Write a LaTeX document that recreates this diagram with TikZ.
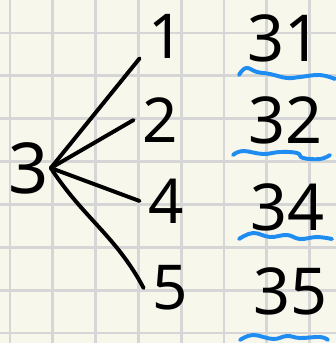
\documentclass[tikz,border=0pt]{standalone}
\usepackage{fontspec}
\setmainfont{Noto Sans}
\usepackage{xcolor}
\usetikzlibrary{positioning}
\definecolor{paper}{HTML}{F8F7EC}
\definecolor{gridgray}{HTML}{D6D6D6}
\definecolor{penblue}{HTML}{1E8CF0}

\begin{document}
\begin{tikzpicture}[
        x=0.025cm, y=-0.025cm,
        digit/.style={inner xsep=6pt, inner ysep=0pt, font=\fontsize{44}{44}\selectfont},
        result/.style={inner sep=0pt, font=\fontsize{46}{46}\selectfont},
        branch/.style={line width=2.8pt, line cap=round, line join=round},
        wave/.style={line width=2.8pt, line cap=round, penblue},
        gridline/.style={line width=2pt, gridgray}
    ]
        % Paper and grid
        \useasboundingbox (0,0) rectangle (336,343);
        \fill[paper] (0,0) rectangle (336,343);
        \foreach \i in {0,...,7} {
            \draw[gridline] ({10+42.8*\i},0) -- ++(0,343);
            \draw[gridline] (0,{33+42.86*\i}) -- ++(336,0);
        }

        % Tree
        \node[inner sep=1pt, font=\fontsize{50}{50}\selectfont] (root) at (29,168) {3};
        \node[digit] (d1) at (166,36) {1};
        \node[digit] (d2) at (160,120) {2};
        \node[digit] (d4) at (166,201) {4};
        \node[digit] (d5) at (170,288) {5};

        \draw[branch] (root.east) -- (d1.south west);
        \draw[branch] (root.east) -- (d2.west);
        \draw[branch] (root.east) -- (d4.west);
        \draw[branch] (root.east) to[out=-57, in=118] (d5.west);

        % Results
        \node[result] (n31) at (284,38) {31};
        \node[result] (n32) at (285,120) {32};
        \node[result] (n34) at (287,207) {34};
        \node[result] (n35) at (290,291) {35};

        % Blue underlines
        \draw[wave] plot[smooth, tension=0.7] coordinates {(239,75) (246,68) (257,72) (270,74) (287,78) (300,77) (320,75) (335,79)};
        \draw[wave] plot[smooth, tension=0.7] coordinates {(233,155) (243,151) (263,154) (280,152) (297,153) (303,158) (320,159) (330,155)};
        \draw[wave] plot[smooth, tension=0.7] coordinates {(239,239) (253,233) (270,237) (287,235) (300,239) (317,237) (332,239)};
        \draw[wave] plot[smooth, tension=0.7] coordinates {(240,340) (253,335) (273,339) (287,336) (300,338) (320,337) (328,340)};
    \end{tikzpicture}
\end{document}
